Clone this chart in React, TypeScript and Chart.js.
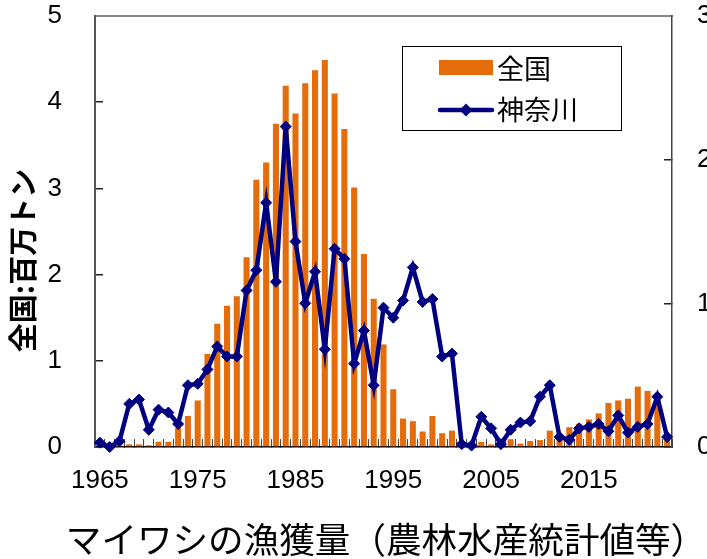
import { useEffect, useRef } from "react";
import { Chart, registerables } from "chart.js";

Chart.register(...registerables);

// Categories (years)
const years = [
  1965, 1966, 1967, 1968, 1969, 1970, 1971, 1972, 1973, 1974,
  1975, 1976, 1977, 1978, 1979, 1980, 1981, 1982, 1983, 1984,
  1985, 1986, 1987, 1988, 1989, 1990, 1991, 1992, 1993, 1994,
  1995, 1996, 1997, 1998, 1999, 2000, 2001, 2002, 2003, 2004,
  2005, 2006, 2007, 2008, 2009, 2010, 2011, 2012, 2013, 2014,
  2015, 2016, 2017, 2018, 2019, 2020, 2021, 2022, 2023,
];

// 全国 (million tonnes, left axis)
const national = [
  0.01, 0.01, 0.02, 0.03, 0.03, 0.02, 0.06, 0.06, 0.22, 0.36,
  0.54, 1.08, 1.43, 1.64, 1.75, 2.2, 3.1, 3.3, 3.75, 4.19,
  3.87, 4.22, 4.37, 4.49, 4.1, 3.69, 3.01, 2.24, 1.72, 1.19,
  0.67, 0.33, 0.3, 0.18, 0.36, 0.16, 0.19, 0.06, 0.03, 0.06,
  0.03, 0.03, 0.09, 0.04, 0.07, 0.08, 0.19, 0.14, 0.23, 0.27,
  0.32, 0.39, 0.51, 0.54, 0.56, 0.7, 0.65, 0.6, 0.08,
];

// 神奈川 (right axis)
const kanagawa = [
  0.03, 0.0, 0.04, 0.3, 0.33, 0.12, 0.26, 0.24, 0.16, 0.43,
  0.44, 0.54, 0.7, 0.63, 0.63, 1.09, 1.23, 1.7, 1.15, 2.23,
  1.43, 1.0, 1.22, 0.68, 1.38, 1.31, 0.58, 0.81, 0.43, 0.97,
  0.9, 1.02, 1.25, 1.01, 1.03, 0.63, 0.65, 0.02, 0.01, 0.21,
  0.13, 0.02, 0.12, 0.17, 0.18, 0.35, 0.43, 0.07, 0.05, 0.13,
  0.14, 0.16, 0.11, 0.22, 0.1, 0.14, 0.16, 0.35, 0.07,
];

// Labelled x ticks
const labelledYears = [1965, 1975, 1985, 1995, 2005, 2015];

const seriesLabels = ["全国", "神奈川"];
const leftAxisTitle = "全国:百万トン";
const chartTitle = "マイワシの漁獲量（農林水産統計値等）";

const ORANGE = "#E46C0A";
const NAVY = "#000080";
const NUM_FONT = "'Liberation Sans', 'DejaVu Sans', sans-serif";
const JP_FONT = "'Noto Sans CJK JP', 'Noto Sans', sans-serif";

const legendBox = {
  id: "legendBox",
  afterDraw(chart: any) {
    const ctx = chart.ctx as CanvasRenderingContext2D;
    const ds = chart.data.datasets;
    ctx.save();
    ctx.fillStyle = "#ffffff";
    ctx.fillRect(402.5, 46.5, 219, 84);
    ctx.strokeStyle = "#000000";
    ctx.lineWidth = 1;
    ctx.strokeRect(402.5, 46.5, 219, 84);
    // bar swatch
    ctx.fillStyle = ds[0].backgroundColor;
    ctx.fillRect(439, 60, 54, 15);
    // line swatch
    ctx.strokeStyle = ds[1].borderColor;
    ctx.lineWidth = 4.5;
    ctx.lineCap = "round";
    ctx.beginPath();
    ctx.moveTo(440, 110);
    ctx.lineTo(492, 110);
    ctx.stroke();
    ctx.fillStyle = ds[1].borderColor;
    ctx.beginPath();
    ctx.moveTo(466, 103.5);
    ctx.lineTo(472.5, 110);
    ctx.lineTo(466, 116.5);
    ctx.lineTo(459.5, 110);
    ctx.closePath();
    ctx.fill();
    // texts
    ctx.fillStyle = "#000000";
    ctx.font = `27px ${JP_FONT}`;
    ctx.textAlign = "left";
    ctx.textBaseline = "middle";
    ctx.fillText(ds[0].label, 497, 69);
    ctx.fillText(ds[1].label, 497, 110);
    ctx.restore();
  },
};

const zeroPad = (s: any) => {
  s.paddingTop = 0;
  s.paddingBottom = 0;
  s.paddingLeft = 0;
  s.paddingRight = 0;
};

export default function App() {
  const ref = useRef<HTMLCanvasElement | null>(null);

  useEffect(() => {
    if (!ref.current) return;
    const chart = new Chart(ref.current, {
      type: "bar",
      data: {
        labels: years.map(String),
        datasets: [
          {
            type: "bar",
            label: seriesLabels[0],
            data: national,
            backgroundColor: ORANGE,
            borderWidth: 0,
            barPercentage: 0.62,
            categoryPercentage: 1,
            yAxisID: "y",
            order: 2,
          } as any,
          {
            type: "line",
            label: seriesLabels[1],
            data: kanagawa,
            borderColor: NAVY,
            backgroundColor: NAVY,
            borderWidth: 4.5,
            pointStyle: "rectRot",
            pointRadius: 5.5,
            pointBorderWidth: 1,
            pointBackgroundColor: NAVY,
            pointBorderColor: NAVY,
            tension: 0,
            yAxisID: "y1",
            order: 1,
            clip: false,
          } as any,
        ],
      },
      options: {
        responsive: false,
        animation: false,
        devicePixelRatio: 1,
        layout: { padding: 0 },
        plugins: {
          legend: { display: false },
          tooltip: { enabled: false },
          title: {
            display: true,
            position: "bottom",
            text: chartTitle,
            color: "#000000",
            font: { family: JP_FONT, size: 35.6, lineHeight: 1, weight: "normal" },
            padding: { top: 0, bottom: 1.4 },
          },
        },
        scales: {
          x: {
            type: "category",
            position: "bottom",
            offset: true,
            grid: {
              offset: true,
              drawOnChartArea: false,
              drawTicks: true,
              tickLength: -8,
              color: "#444444",
              lineWidth: 1,
            },
            border: { display: true, color: "#000000", width: 1.5 },
            ticks: {
              autoSkip: false,
              maxRotation: 0,
              minRotation: 0,
              padding: 26,
              color: "#000000",
              font: { family: NUM_FONT, size: 26 },
              callback: (_v: any, i: number) =>
                labelledYears.includes(years[i]) ? String(years[i]) : "",
            },
            afterFit: (s: any) => {
              s.height = 75;
              zeroPad(s);
            },
          },
          xTop: {
            type: "category",
            position: "top",
            grid: { display: false },
            border: { display: true, color: "#888888", width: 2 },
            ticks: { display: false },
            afterFit: (s: any) => {
              s.height = 16;
              zeroPad(s);
            },
          },
          y: {
            type: "linear",
            position: "left",
            min: 0,
            max: 5,
            ticks: {
              stepSize: 1,
              padding: 41,
              color: "#000000",
              font: { family: NUM_FONT, size: 26 },
            },
            grid: {
              drawOnChartArea: false,
              drawTicks: true,
              tickLength: -8,
              color: "#222222",
              lineWidth: 1.5,
            },
            border: { display: true, color: "#555555", width: 2 },
            title: {
              display: true,
              text: leftAxisTitle + "\u3000\u3000",
              color: "#000000",
              font: { family: JP_FONT, size: 29, weight: "bold" },
              padding: { top: 6, bottom: 0 },
            },
            afterFit: (s: any) => {
              s.width = 95;
              zeroPad(s);
            },
          },
          y1: {
            type: "linear",
            position: "right",
            min: 0,
            max: 3,
            ticks: {
              stepSize: 1,
              padding: 33,
              color: "#000000",
              font: { family: NUM_FONT, size: 26 },
            },
            grid: {
              drawOnChartArea: false,
              drawTicks: true,
              tickLength: -8,
              color: "#222222",
              lineWidth: 1.5,
            },
            border: { display: true, color: "#444444", width: 1.5 },
            afterFit: (s: any) => {
              s.width = 100;
              zeroPad(s);
            },
          },
        },
      } as any,
      plugins: [legendBox],
    });
    return () => chart.destroy();
  }, []);

  return (
    <div
      style={{
        position: "fixed",
        left: 0,
        top: 0,
        width: 707,
        height: 559,
        overflow: "hidden",
        background: "#ffffff",
      }}
    >
      <canvas ref={ref} width={772} height={559} style={{ display: "block" }} />
    </div>
  );
}
